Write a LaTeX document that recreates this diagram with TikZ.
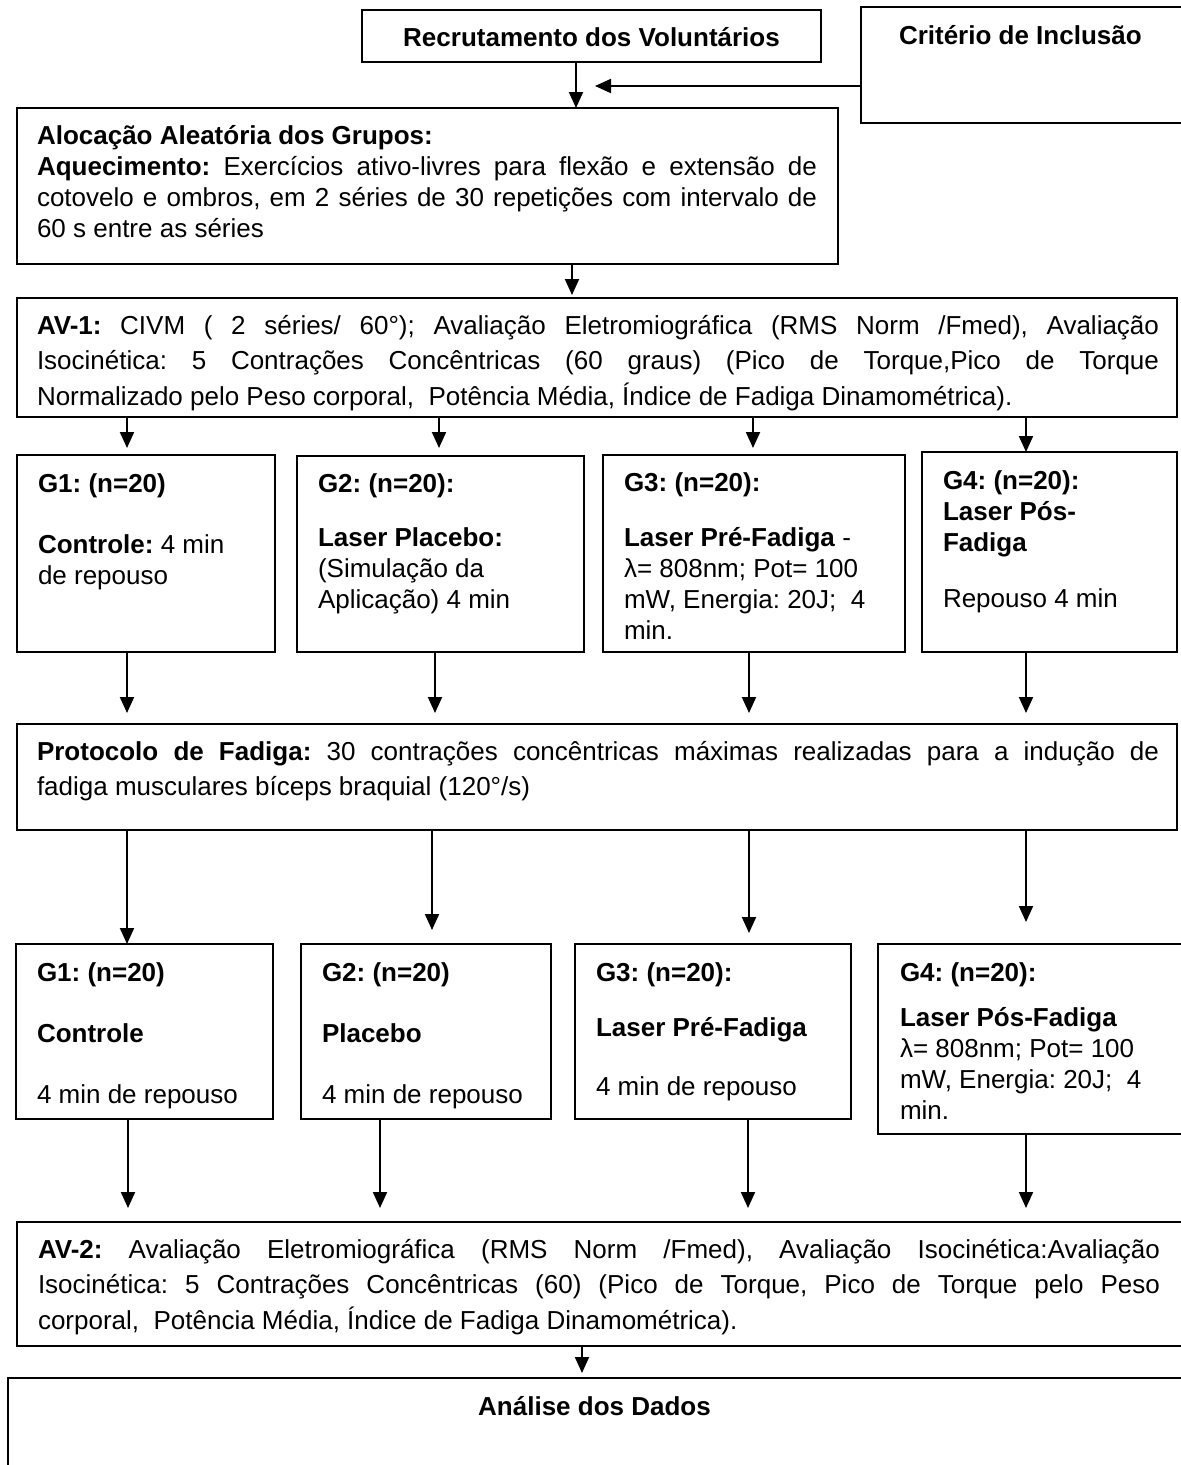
\documentclass[tikz,border=0pt]{standalone}
\usepackage{fontspec}
\setmainfont{Liberation Sans}
\usetikzlibrary{arrows.meta}
% #1 W, #2 H, #3 left pad, #4 text width, #5 first baseline from top, #6 baselineskip, #7 content
\newcommand\bxt[7]{%
\begin{minipage}[t][#2pt][t]{#1pt}%
\vspace*{\dimexpr#5pt-26pt\relax}%
\hspace*{#3pt}\parbox[t]{#4pt}{\frenchspacing\fontsize{26pt}{#6pt}\selectfont\rule{0pt}{26pt}#7}%
\end{minipage}}
\newcommand\jl[1]{\makebox[\linewidth][s]{#1}}
\tikzset{
  bx/.style={draw, line width=2pt, anchor=north west, inner sep=0pt, outer sep=0pt},
  arr/.style={draw, line width=2pt, -{Triangle[length=16pt,width=14pt]}}
}
\begin{document}
\begin{tikzpicture}[x=1pt,y=-1pt]
\useasboundingbox (0,0) rectangle (1181,1465);
\fill[white] (0,0) rectangle (1181,1465);
\clip (0,0) rectangle (1181,1465);

% boxes
\node[bx] (rec) at (362,10) {\bxt{459}{52}{0}{459}{36}{31}{\centering\textbf{Recrutamento dos Voluntários}\par}};
\node[bx] (crit) at (861,7) {\bxt{329}{116}{38}{280}{37}{31}{\textbf{Critério de Inclusão}}};
\node[bx] (aloc) at (17,108) {\bxt{821}{156}{20}{780}{36}{31}{%
\textbf{Alocação Aleatória dos Grupos:}\\
\jl{\textbf{Aquecimento:} Exercícios ativo-livres para flexão e extensão de}\\
\jl{cotovelo e ombros, em 2 séries de 30 repetições com intervalo de}\\
60 s entre as séries}};
\node[bx] (av1) at (17,298) {\bxt{1160}{119}{20}{1122}{36}{35.5}{%
\jl{\textbf{AV-1:} CIVM ( 2 séries/ 60°); Avaliação Eletromiográfica (RMS Norm /Fmed), Avaliação}\\
\jl{Isocinética: 5 Contrações Concêntricas (60 graus) (Pico de Torque,Pico de Torque}\\
Normalizado pelo Peso corporal,\ \ Potência Média, Índice de Fadiga Dinamométrica).}};

\node[bx] (g1a) at (17,455) {\bxt{258}{197}{21}{235}{37}{31}{%
\textbf{G1: (n=20)}\\[30pt]\textbf{Controle:} 4 min\\de repouso}};
\node[bx] (g2a) at (297,456) {\bxt{287}{196}{21}{264}{36}{31}{%
\textbf{G2: (n=20):}\\[23pt]\textbf{Laser Placebo:}\\(Simulação da\\Aplicação) 4 min}};
\node[bx] (g3a) at (603,455) {\bxt{302}{197}{21}{280}{36}{31}{%
\textbf{G3: (n=20):}\\[24pt]\textbf{Laser Pré-Fadiga} -\\λ= 808nm; Pot= 100\\mW, Energia: 20J;\ \ 4\\min.}};
\node[bx] (g4a) at (922,452) {\bxt{255}{200}{21}{232}{37}{31}{%
\textbf{G4: (n=20):}\\\textbf{Laser Pós-}\\\textbf{Fadiga}\\[25pt]Repouso 4 min}};

\node[bx] (prot) at (17,724) {\bxt{1160}{106}{20}{1122}{36}{35}{%
\jl{\textbf{Protocolo de Fadiga:} 30 contrações concêntricas máximas realizadas para a indução de}\\
fadiga musculares bíceps braquial (120°/s)}};

\node[bx] (g1b) at (16,944) {\bxt{257}{175}{21}{235}{37}{31}{%
\textbf{G1: (n=20)}\\[30pt]\textbf{Controle}\\[30pt]4 min de repouso}};
\node[bx] (g2b) at (301,944) {\bxt{250}{175}{21}{228}{37}{31}{%
\textbf{G2: (n=20)}\\[30pt]\textbf{Placebo}\\[30pt]4 min de repouso}};
\node[bx] (g3b) at (575,944) {\bxt{276}{175}{21}{254}{37}{31}{%
\textbf{G3: (n=20):}\\[24pt]\textbf{Laser Pré-Fadiga}\\[28pt]4 min de repouso}};
\node[bx] (g4b) at (878,944) {\bxt{312}{190}{22}{288}{37}{31}{%
\textbf{G4: (n=20):}\\[14pt]\textbf{Laser Pós-Fadiga}\\λ= 808nm; Pot= 100\\mW, Energia: 20J;\ \ 4\\min.}};

\node[bx] (av2) at (17,1222) {\bxt{1173}{124}{21}{1122}{36}{35.5}{%
\jl{\textbf{AV-2:} Avaliação Eletromiográfica (RMS Norm /Fmed), Avaliação Isocinética:Avaliação}\\
\jl{Isocinética: 5 Contrações Concêntricas (60) (Pico de Torque, Pico de Torque pelo Peso}\\
corporal,\ \ Potência Média, Índice de Fadiga Dinamométrica).}};
\node[bx] (anal) at (8,1378) {\bxt{1182}{102}{0}{1173}{37}{31}{\centering\textbf{Análise dos Dados}\par}};

% column coordinates
\coordinate (xa) at (576,0);
\coordinate (xb) at (572,0);
\coordinate (c1) at (127,0);
\coordinate (c2) at (439,0);
\coordinate (c3) at (753,0);
\coordinate (c4) at (1026,0);
\coordinate (d2) at (435,0);
\coordinate (d3) at (749,0);
\coordinate (e2) at (432,0);
\coordinate (f1) at (128,0);
\coordinate (f2) at (380,0);
\coordinate (f3) at (748,0);
\coordinate (xg) at (582,0);
\coordinate (ctip) at (595,86);

% connectors
\draw[arr] (rec.south -| xa) -- (aloc.north -| xa);
\draw[arr] (crit.west |- ctip) -- (ctip);
\draw[arr, shorten >=3pt] (aloc.south -| xb) -- (av1.north -| xb);

\draw[arr, shorten >=7pt] (av1.south -| c1) -- (g1a.north -| c1);
\draw[arr, shorten >=8pt] (av1.south -| c2) -- (g2a.north -| c2);
\draw[arr, shorten >=7pt] (av1.south -| c3) -- (g3a.north -| c3);
\draw[arr] (av1.south -| c4) -- (g4a.north -| c4);

\draw[arr, shorten >=11pt] (g1a.south -| c1) -- (prot.north -| c1);
\draw[arr, shorten >=11pt] (g2a.south -| d2) -- (prot.north -| d2);
\draw[arr, shorten >=11pt] (g3a.south -| d3) -- (prot.north -| d3);
\draw[arr, shorten >=11pt] (g4a.south -| c4) -- (prot.north -| c4);

\draw[arr] (prot.south -| c1) -- (g1b.north -| c1);
\draw[arr, shorten >=14pt] (prot.south -| e2) -- (g2b.north -| e2);
\draw[arr, shorten >=11pt] (prot.south -| d3) -- (g3b.north -| d3);
\draw[arr, shorten >=22pt] (prot.south -| c4) -- (g4b.north -| c4);

\draw[arr, shorten >=14pt] (g1b.south -| f1) -- (av2.north -| f1);
\draw[arr, shorten >=14pt] (g2b.south -| f2) -- (av2.north -| f2);
\draw[arr, shorten >=14pt] (g3b.south -| f3) -- (av2.north -| f3);
\draw[arr, shorten >=14pt] (g4b.south -| c4) -- (av2.north -| c4);

\draw[arr, shorten >=5pt] (av2.south -| xg) -- (anal.north -| xg);
\end{tikzpicture}
\end{document}
